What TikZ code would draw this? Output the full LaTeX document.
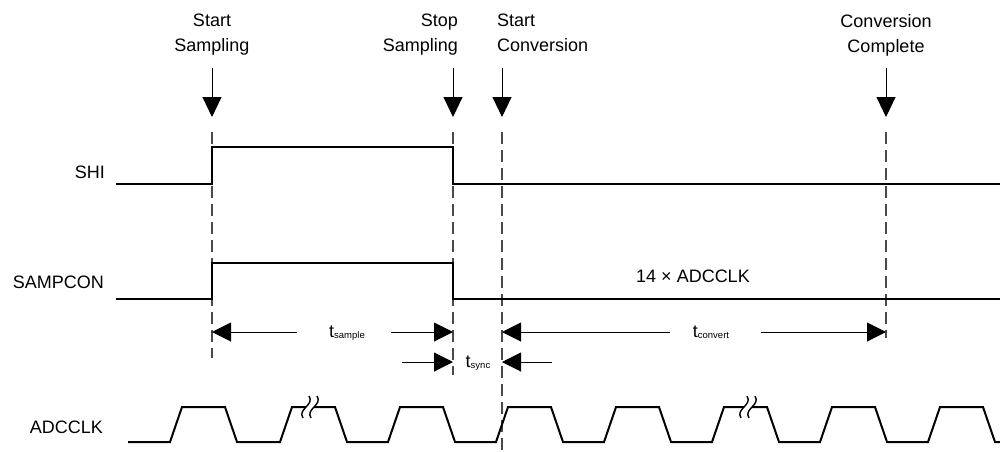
\documentclass[tikz,border=0pt]{standalone}
\usepackage{fontspec}
\setmainfont{Liberation Sans}
\usepackage{xcolor}
\usetikzlibrary{arrows.meta,positioning}
\definecolor{guidegray}{HTML}{4A4A4A}
\newcommand{\tsub}[1]{t\raisebox{-1.5pt}{\fontsize{9.5}{10}\selectfont #1}}

\begin{document}
\begin{tikzpicture}[
        x=1pt, y=-1pt,
        every node/.style={font=\fontsize{18}{25}\selectfont, align=center, inner sep=0pt},
        signal/.style={line width=2pt, line join=miter},
        guide/.style={guidegray, line width=1.2pt, dash pattern=on 12pt off 6pt},
        event/.style={-{Triangle[length=20pt,width=19pt]}, line width=1pt},
        arrow/.style={-{Triangle[length=19pt,width=19pt]}, line width=1pt},
        squiggle/.style={line width=1.4pt}
    ]
        \useasboundingbox (0,0) rectangle (1000,451);

        % event labels and arrows
        \node[anchor=north] (startsamp) at (212,14) {Start\\Sampling};
        \node[anchor=north east, align=right] (stopsamp) at (458,14) {Stop\\Sampling};
        \node[anchor=north west, align=left] (startconv) at (497,14) {Start\\Conversion};
        \node[anchor=north] (convdone) at (886,14) {Conversion\\Complete};
        \coordinate (ssTop) at (212,68);  \coordinate (ssTip) at (212,117);
        \coordinate (spTop) at (453,68);  \coordinate (spTip) at (453,117);
        \coordinate (scTop) at (502,68);  \coordinate (scTip) at (502,117);
        \coordinate (ccTop) at (886,68);  \coordinate (ccTip) at (886,117);
        \draw[event] (ssTop) -- (ssTip);
        \draw[event] (spTop) -- (spTip);
        \draw[event] (scTop) -- (scTip);
        \draw[event] (ccTop) -- (ccTip);

        % guide lines
        \draw[guide] (212,132) -- (212,358);
        \draw[guide] (453,132) -- (453,375);
        \draw[guide] (502,132) -- (502,451);
        \draw[guide] (886,132) -- (886,338);

        % signal names
        \node[anchor=base east] (shi) at (105,178) {SHI};
        \node[anchor=base east] (sampcon) at (104,288) {SAMPCON};
        \node[anchor=base east] (adcclk) at (103,433) {ADCCLK};
        \node[anchor=base] (nclk) at (693,282) {14 × ADCCLK};

        % waveforms
        \draw[signal] (116,184) -- (212,184) -- (212,147) -- (453,147) -- (453,184) -- (1000,184);
        \draw[signal] (116,299) -- (212,299) -- (212,263) -- (453,263) -- (453,299) -- (1000,299);
        \draw[signal] (128,442) -- (170,442) -- (182,407) -- (225,407) -- (237,442) -- (280,442)
            -- (292,407) -- (306,407);
        \draw[signal] (314,407) -- (335,407) -- (347,442) -- (388,442) -- (400,407) -- (443,407)
            -- (455,442) -- (496,442) -- (508,407) -- (551,407) -- (563,442) -- (604,442)
            -- (616,407) -- (659,407) -- (671,442) -- (712,442) -- (724,407) -- (744,407);
        \draw[signal] (752,407) -- (767,407) -- (779,442) -- (820,442) -- (832,407) -- (875,407)
            -- (887,442) -- (928,442) -- (940,407) -- (983,407) -- (995,442) -- (1000,442);
        \draw[squiggle] (303,418) .. controls (297,409) and (315,405) .. (309,396);
        \draw[squiggle] (311,418) .. controls (305,409) and (323,405) .. (317,396);
        \draw[squiggle] (741,418) .. controls (735,409) and (753,405) .. (747,396);
        \draw[squiggle] (749,418) .. controls (743,409) and (761,405) .. (755,396);

        % timing dimensions
        \node[anchor=base] (tsample) at (347,337) {\tsub{sample}};
        \node[anchor=base] (tconvert) at (711,337) {\tsub{convert}};
        \node[anchor=base] (tsync) at (478,367) {\tsub{sync}};
        \coordinate (smpL) at (297,332);  \coordinate (smpR) at (391,332);
        \coordinate (cnvL) at (670,332);  \coordinate (cnvR) at (761,332);
        \coordinate (synL) at (402,362);  \coordinate (synR) at (552,362);
        \coordinate (ssRow) at (212,332); \coordinate (spRow) at (453,332);
        \coordinate (scRow) at (502,332); \coordinate (ccRow) at (886,332);
        \coordinate (spSync) at (453,362); \coordinate (scSync) at (502,362);
        \draw[arrow] (smpL) -- (ssRow);
        \draw[arrow] (smpR) -- (spRow);
        \draw[arrow] (cnvL) -- (scRow);
        \draw[arrow] (cnvR) -- (ccRow);
        \draw[arrow] (synL) -- (spSync);
        \draw[arrow] (synR) -- (scSync);
    \end{tikzpicture}
\end{document}
